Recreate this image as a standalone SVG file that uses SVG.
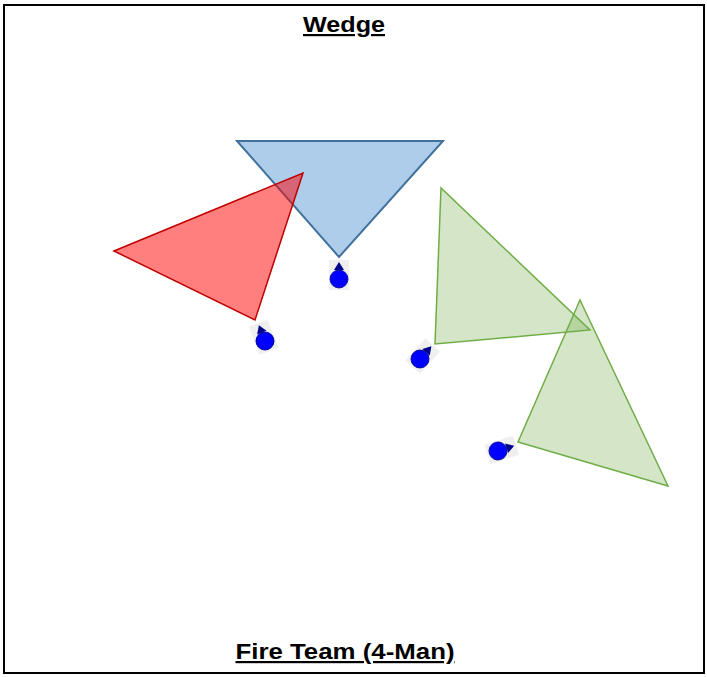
<svg xmlns="http://www.w3.org/2000/svg" width="707" height="677" viewBox="0 0 707 677">
<defs>
<style>
.title{font-family:"Liberation Sans",Arial,sans-serif;font-weight:bold;font-size:22px;text-decoration:underline;fill:#000}
.blue{fill:#5B9BD5;fill-opacity:0.5;stroke:#41719C;stroke-width:2;stroke-linejoin:miter}
.red{fill:#FF0000;fill-opacity:0.5;stroke:#C00000;stroke-width:1.5}
.green{fill:#70AD47;fill-opacity:0.3;stroke:#70AD47;stroke-width:1.5}
</style>
<g id="soldier-sym">
<rect x="-10" y="-19" width="20" height="30" fill="#dcdcdc" fill-opacity="0.45"/>
<circle cx="0" cy="0" r="9" fill="#0000FF" stroke="#00008B" stroke-width="0.8"/>
<polygon points="0,-17 -5,-9 5,-9" fill="#00008B"/>
</g>
</defs>
<rect x="4" y="5" width="700" height="668" fill="#fff" stroke="#000" stroke-width="2"/>
<text class="title" x="344" y="32" text-anchor="middle" textLength="82" lengthAdjust="spacingAndGlyphs">Wedge</text>
<text class="title" x="345" y="659" text-anchor="middle" textLength="219" lengthAdjust="spacingAndGlyphs">Fire Team (4-Man)</text>
<g id="sector-blue"><polygon class="blue" points="237,141 443,141 339,257"/></g>
<g id="sector-red"><polygon class="red" points="114,251 303,173 255,320"/></g>
<g id="sector-green1"><polygon class="green" points="441,188 435,344 590,330"/></g>
<g id="sector-green2"><polygon class="green" points="580,300 518,442 668,486"/></g>
<g id="soldier1"><use href="#soldier-sym" transform="translate(339,279)"/></g>
<g id="soldier2"><use href="#soldier-sym" transform="translate(265,341) rotate(-21)"/></g>
<g id="soldier3"><use href="#soldier-sym" transform="translate(420,359) rotate(42)"/></g>
<g id="soldier4"><use href="#soldier-sym" transform="translate(498,451) rotate(72)"/></g>
<g id="connectors"/>
</svg>
